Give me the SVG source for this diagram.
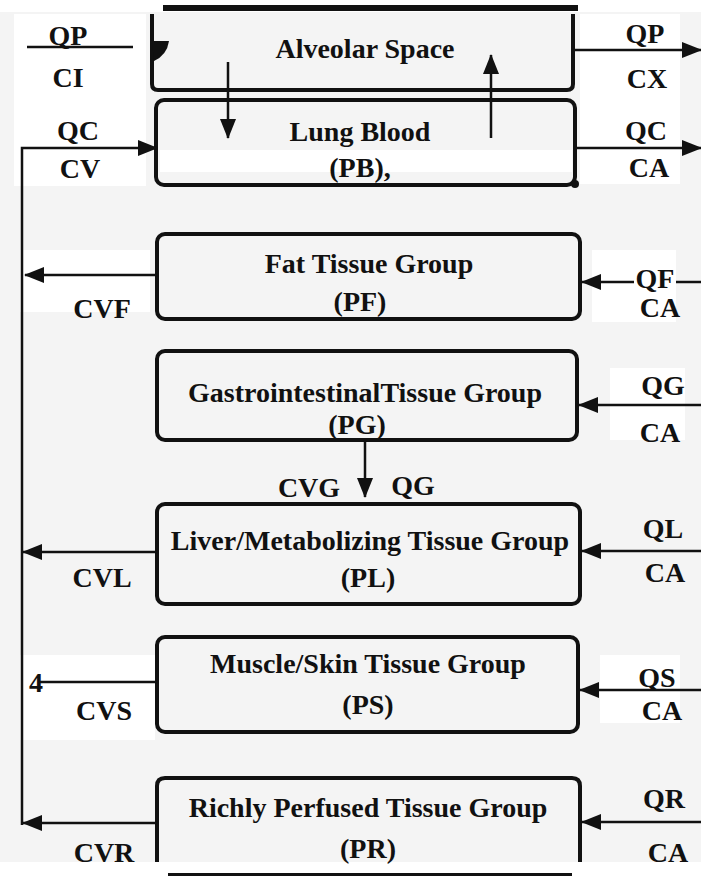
<svg xmlns="http://www.w3.org/2000/svg" width="701" height="879" viewBox="0 0 701 879">
<defs>
<style>
.t{font-family:"Liberation Serif","Times New Roman",serif;font-weight:bold;font-size:28px;fill:#111;text-anchor:middle}
.l{font-family:"Liberation Serif","Times New Roman",serif;font-weight:bold;font-size:28px;fill:#111;text-anchor:middle}
.box{fill:none;stroke:#111;stroke-width:4}
.c{fill:none;stroke:#111;stroke-width:2.5}
</style>
<marker id="ah" viewBox="0 0 20 16" refX="19" refY="8" markerWidth="20" markerHeight="16" markerUnits="userSpaceOnUse" orient="auto">
<path d="M0,0 L20,8 L0,16 Z" fill="#111"/>
</marker>
</defs>
<rect width="701" height="879" fill="#f4f4f4"/>
<rect x="14" y="14" width="132" height="172" fill="#fff"/>
<rect x="0" y="0" width="701" height="12" fill="#fff"/>
<rect x="580" y="14" width="100" height="170" fill="#fff"/>
<rect x="20" y="250" width="130" height="62" fill="#fff"/>
<rect x="592" y="250" width="84" height="72" fill="#fff"/>
<rect x="610" y="368" width="75" height="72" fill="#fff"/>
<rect x="20" y="655" width="135" height="85" fill="#fff"/>
<rect x="600" y="655" width="80" height="68" fill="#fff"/>
<rect x="0" y="862" width="701" height="17" fill="#fff"/>

<g id="alveolar">
<rect x="163" y="5" width="415" height="6" fill="#111"/>
<path class="box" d="M152,14 V84 Q152,90 158,90 H567 Q573,90 573,84 V14"/>
<text class="t" x="365" y="58">Alveolar Space</text>
</g>
<g id="lung">
<rect class="box" x="156" y="100" width="419" height="85" rx="8"/>
<rect x="160" y="150" width="412" height="22" fill="#fff"/>
<circle cx="575" cy="184" r="4" fill="#111"/>
<text class="t" x="360" y="141">Lung Blood</text>
<text class="t" x="360" y="177">(PB),</text>
</g>
<g id="fat">
<rect class="box" x="157" y="234" width="423" height="85" rx="8"/>
<text class="t" x="369" y="273">Fat Tissue Group</text>
<text class="t" x="360" y="311">(PF)</text>
</g>
<g id="gi">
<rect class="box" x="157" y="351" width="420" height="89" rx="8"/>
<text class="t" x="365" y="402">GastrointestinalTissue Group</text>
<text class="t" x="357" y="434">(PG)</text>
</g>
<g id="liver">
<rect class="box" x="157" y="504" width="423" height="100" rx="8"/>
<text class="t" x="370" y="550">Liver/Metabolizing Tissue Group</text>
<text class="t" x="368" y="587">(PL)</text>
</g>
<g id="muscle">
<rect class="box" x="157" y="637" width="421" height="95" rx="8"/>
<text class="t" x="368" y="673">Muscle/Skin Tissue Group</text>
<text class="t" x="368" y="714">(PS)</text>
</g>
<g id="rich">
<path class="box" d="M157,862 V786 Q157,778 165,778 H572 Q580,778 580,786 V862"/>
<text class="t" x="368" y="817">Richly Perfused Tissue Group</text>
<text class="t" x="368" y="858">(PR)</text>
<rect x="168" y="873" width="404" height="3" fill="#111"/>
</g>

<g id="connectors">
<path class="c" d="M27,47 H133"/>
<path d="M152,41 H169 Q167,55 154,61 Z" fill="#111"/>
<path class="c" d="M228,62 V138" marker-end="url(#ah)"/>
<path class="c" d="M491,138 V55" marker-end="url(#ah)"/>
<path class="c" d="M575,50 H701" marker-end="url(#ah)"/>
<path class="c" d="M575,148 H701" marker-end="url(#ah)"/>
<path class="c" d="M22,825 V148 H157" marker-end="url(#ah)"/>
<path class="c" d="M157,275 H25" marker-end="url(#ah)"/>
<path class="c" d="M701,282 H582" marker-end="url(#ah)"/>
<path class="c" d="M701,405 H579" marker-end="url(#ah)"/>
<path class="c" d="M365,440 V497" marker-end="url(#ah)"/>
<path class="c" d="M157,552 H23" marker-end="url(#ah)"/>
<path class="c" d="M701,551 H582" marker-end="url(#ah)"/>
<path class="c" d="M157,682 H40"/>
<path class="c" d="M701,690 H580" marker-end="url(#ah)"/>
<path class="c" d="M157,823 H23" marker-end="url(#ah)"/>
<path class="c" d="M701,822 H582" marker-end="url(#ah)"/>
<rect x="634" y="262" width="42" height="24" fill="#fff"/>
</g>

<g id="labels">
<text class="l" x="68" y="45">QP</text>
<text class="l" x="68" y="87">CI</text>
<text class="l" x="78" y="140">QC</text>
<text class="l" x="80" y="178">CV</text>
<text class="l" x="645" y="43">QP</text>
<text class="l" x="647" y="88">CX</text>
<text class="l" x="646" y="140">QC</text>
<text class="l" x="649" y="177">CA</text>
<text class="l" x="102" y="318">CVF</text>
<text class="l" x="655" y="288">QF</text>
<text class="l" x="660" y="317">CA</text>
<text class="l" x="663" y="395">QG</text>
<text class="l" x="660" y="442">CA</text>
<text class="l" x="309" y="497">CVG</text>
<text class="l" x="413" y="495">QG</text>
<text class="l" x="102" y="587">CVL</text>
<text class="l" x="663" y="538">QL</text>
<text class="l" x="665" y="582">CA</text>
<text class="l" x="36" y="692">4</text>
<text class="l" x="104" y="720">CVS</text>
<text class="l" x="657" y="687">QS</text>
<text class="l" x="662" y="720">CA</text>
<text class="l" x="104" y="862">CVR</text>
<text class="l" x="664" y="808">QR</text>
<text class="l" x="668" y="862">CA</text>
</g>
</svg>
